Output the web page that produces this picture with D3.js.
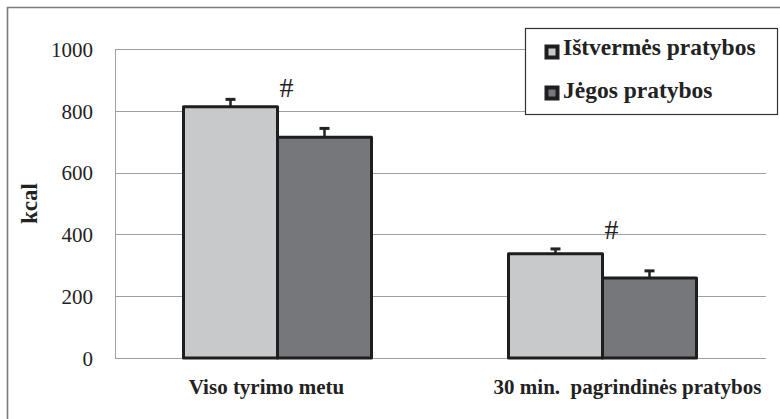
<!DOCTYPE html>
<html>
<head>
<meta charset="utf-8">
<script src="https://cdn.jsdelivr.net/npm/d3@7"></script>
<style>
  body { margin: 0; background: #fff; overflow: hidden; }
  svg text { font-family: 'Liberation Serif', 'Times New Roman', Times, serif !important; }
</style>
</head>
<body>
<svg id="chart" width="780" height="419"></svg>
<script>
// data
const categories = ["Viso tyrimo metu", "30 min.  pagrindinės pratybos"];
const seriesNames = ["Ištvermės pratybos", "Jėgos pratybos"];
const enduranceValues = [813, 337];
const enduranceErrors = [24, 16];
const strengthValues = [714, 259];
const strengthErrors = [29, 23];
const yTicks = [0, 200, 400, 600, 800, 1000];
const markers = ["#", "#"];
const markerLevels = [845, 385];   // where the # sits, in kcal
const labelShift = [-11, 25];      // category labels are not quite centred
const colors = ["#c8c9cb", "#76777b"];

const svg = d3.select("#chart");
const margin = {top: 49, right: 14, bottom: 61, left: 115};
const width = 780 - margin.left - margin.right,
      height = 419 - margin.top - margin.bottom;

// outer frame (only top and left edges are in view)
svg.append("path")
  .attr("d", "M7.5,419 V7.5 H780")
  .attr("fill", "none").attr("stroke", "#7a7a7a").attr("stroke-width", 1.6);

const g = svg.append("g")
  .attr("transform", "translate(" + margin.left + "," + margin.top + ")");

const y = d3.scaleLinear().domain([0, 1000]).range([height, 0]);
const x0 = d3.scaleBand().domain(categories).range([0, 650]);
const x1 = d3.scaleBand().domain(seriesNames).range([0, 188]);

// gridlines
g.selectAll(".grid")
  .data(yTicks)
  .enter().append("line")
  .attr("x1", 0).attr("x2", width)
  .attr("y1", d => Math.round(y(d)) + 0.5)
  .attr("y2", d => Math.round(y(d)) + 0.5)
  .attr("stroke", "#a0a0a0").attr("stroke-width", 1);

g.append("line")
  .attr("x1", 0.5).attr("x2", 0.5)
  .attr("y1", y(1000)).attr("y2", y(0))
  .attr("stroke", "#a0a0a0");

// y axis labels
const yAxis = g.append("g")
  .call(d3.axisLeft(y).tickValues(yTicks).tickFormat(d3.format("d")).tickSize(0).tickPadding(22));
yAxis.select(".domain").remove();
yAxis.selectAll("text")
  .attr("font-size", 21)
  .attr("dy", "0.35em")
  .attr("fill", "#222");

svg.append("text")
  .attr("transform", "translate(37," + (margin.top + height / 2) + ") rotate(-90)")
  .attr("text-anchor", "middle")
  .attr("font-size", 23).attr("font-weight", 700).attr("fill", "#222")
  .text("kcal");

// bars
const rows = categories.map((c, i) => ({
  cat: c,
  vals: [
    {s: seriesNames[0], v: enduranceValues[i], e: enduranceErrors[i], c: colors[0]},
    {s: seriesNames[1], v: strengthValues[i], e: strengthErrors[i], c: colors[1]}
  ]
}));

const groups = g.selectAll(".grp")
  .data(rows)
  .enter().append("g")
  .attr("transform", d => "translate(" + (x0(d.cat) + x0.bandwidth() / 2 - 94) + ",0)");

// error bars
groups.selectAll(".err")
  .data(d => d.vals)
  .enter().append("g")
  .each(function (d) {
    const cx = x1(d.s) + x1.bandwidth() / 2;
    const s = d3.select(this);
    s.append("line")
      .attr("x1", cx).attr("x2", cx)
      .attr("y1", y(d.v)).attr("y2", y(d.v + d.e))
      .attr("stroke", "#222").attr("stroke-width", 2.5);
    s.append("line")
      .attr("x1", cx - 5).attr("x2", cx + 5)
      .attr("y1", y(d.v + d.e)).attr("y2", y(d.v + d.e))
      .attr("stroke", "#222").attr("stroke-width", 3);
  });

groups.selectAll("rect")
  .data(d => d.vals)
  .enter().append("rect")
  .attr("x", d => x1(d.s))
  .attr("y", d => y(d.v))
  .attr("width", x1.bandwidth())
  .attr("height", d => y(0) - y(d.v))
  .attr("fill", d => d.c)
  .attr("stroke", "#1e1e1e")
  .attr("stroke-width", 3)
  .attr("stroke-linejoin", "round");

// significance markers
groups.append("text")
  .attr("x", 96)
  .attr("y", (d, i) => y(markerLevels[i]))
  .attr("font-size", 28).attr("fill", "#222")
  .text((d, i) => markers[i]);

// category labels
g.selectAll(".cat")
  .data(categories)
  .enter().append("text")
  .attr("x", (d, i) => x0(d) + x0.bandwidth() / 2 + labelShift[i])
  .attr("y", height + 36)
  .attr("text-anchor", "middle")
  .attr("font-size", 21).attr("font-weight", 700).attr("fill", "#222")
  .style("white-space", "pre")
  .text(d => d);

// legend
const lg = svg.append("g").attr("transform", "translate(525.5,28.5)");
lg.append("rect")
  .attr("width", 252).attr("height", 86)
  .attr("fill", "#fff").attr("stroke", "#333").attr("stroke-width", 1.2);
seriesNames.forEach((n, i) => {
  const cy = 23.5 + i * 41;
  lg.append("rect")
    .attr("x", 21).attr("y", cy - 5.5).attr("width", 11).attr("height", 11)
    .attr("fill", colors[i]).attr("stroke", "#1e1e1e").attr("stroke-width", 4);
  lg.append("text")
    .attr("x", 37.5).attr("y", 26.5 + i * 43)
    .attr("font-size", 23.5).attr("font-weight", 700).attr("fill", "#222")
    .text(n);
});
</script>
</body>
</html>
